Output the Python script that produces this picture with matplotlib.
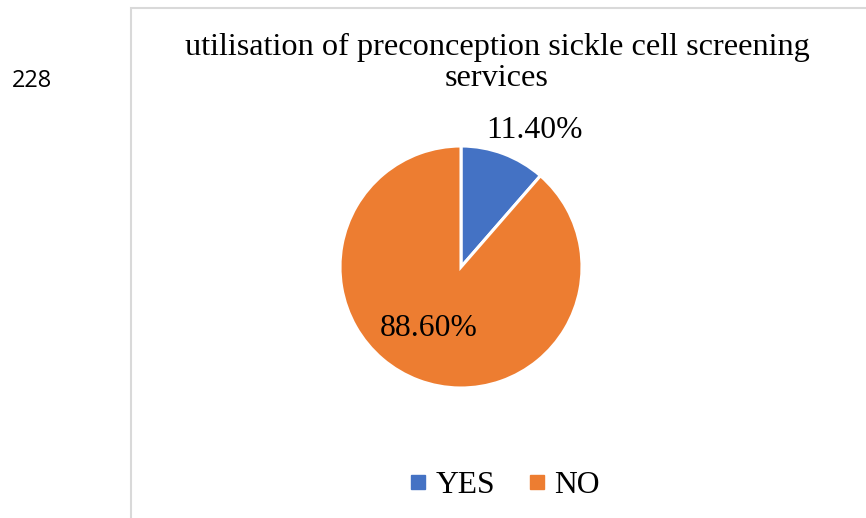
import matplotlib.pyplot as plt
from matplotlib.patches import Rectangle
from matplotlib.lines import Line2D

# data
categories = ["YES", "NO"]
shares = [11.40, 88.60]
colors = ["#4472C4", "#ED7D31"]
title = "utilisation of preconception sickle cell screening\nservices"
page_no = "228"

W, H = 866, 518
fig = plt.figure(figsize=(W / 100, H / 100), dpi=100)

# page line number and chart frame
fig.text(12 / W, 1 - 81 / H, page_no, fontsize=17, family="Open Sans", va="center", ha="left")
fig.patches.append(Rectangle((131 / W, -0.1), 1.0, 1 - 8 / H + 0.1, transform=fig.transFigure,
                             fill=False, edgecolor="#d9d9d9", linewidth=1.5))

# pie axes (center ~ (461, 267), radius ~121 px)
cx, cy, r = 461, 267, 121
ax = fig.add_axes([(cx - r) / W, 1 - (cy + r) / H, 2 * r / W, 2 * r / H])
wedges, _ = ax.pie(shares, colors=colors, startangle=90, counterclock=False,
                   wedgeprops=dict(edgecolor="white", linewidth=2.2))
ax.set_xlim(-1, 1)
ax.set_ylim(-1, 1)
ax.set_aspect("equal")

serif = "Liberation Serif"
label_pos = [(0.61, 1.125), (-0.265, -0.51)]
for (x, y), v in zip(label_pos, shares):
    ax.text(x, y, f"{v:.2f}%", fontsize=22.8, family=serif, ha="center", va="center", clip_on=False)

fig.text(497 / W, 1 - 63 / H, title, fontsize=23.2, family=serif, ha="center", va="center",
         linespacing=1.1)

handles = [Line2D([], [], marker="s", linestyle="none", markersize=9.5, color=c) for c in colors]
fig.legend(handles, categories, loc="center", bbox_to_anchor=(501 / W, 1 - 485 / H),
           ncol=2, frameon=False, prop=dict(family=serif, size=22.8),
           handletextpad=0.05, columnspacing=0.8, handlelength=1.0)

fig.savefig("out.png", dpi=100)
